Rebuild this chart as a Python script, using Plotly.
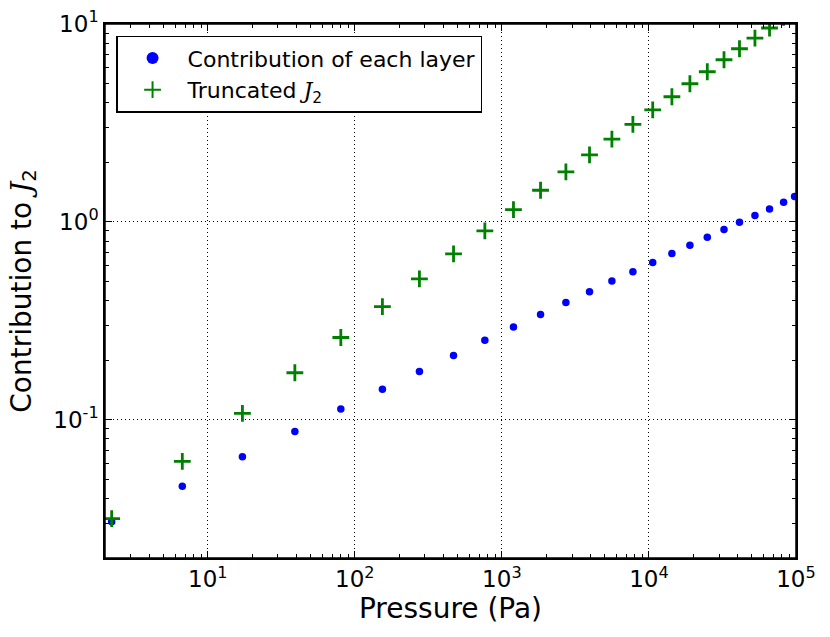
import plotly.graph_objects as go

# Pressure levels (Pa) and contributions
pressure = [2.22, 6.71, 17.2, 39.1, 80.3, 154, 275, 469, 766, 1199,
            1832, 2725, 3945, 5600, 7780, 10610, 14330, 19000, 24940, 32400,
            41300, 52600, 66100, 82400, 97800]
layer = [0.0305, 0.0461, 0.0650, 0.0873, 0.1133, 0.1426, 0.1754, 0.211, 0.252, 0.294,
         0.340, 0.391, 0.443, 0.502, 0.560, 0.624, 0.692, 0.762, 0.837, 0.914,
         0.997, 1.076, 1.163, 1.257, 1.343]
truncated = [0.0316, 0.0616, 0.1076, 0.1727, 0.2604, 0.373, 0.515, 0.689, 0.901, 1.154,
             1.445, 1.789, 2.18, 2.62, 3.11, 3.68, 4.29, 4.99, 5.74, 6.60,
             7.50, 8.49, 9.55, 10.8, 12.1]

x_tickvals = [10, 100, 1000, 10000, 100000]
x_ticktext = ["10<sup>1</sup>", "10<sup>2</sup>", "10<sup>3</sup>", "10<sup>4</sup>", "10<sup>5</sup>"]
y_tickvals = [0.1, 1, 10]
y_ticktext = ["10<sup>-1</sup>", "10<sup>0</sup>", "10<sup>1</sup>"]

# minor ticks at 2..9 of every decade
x_minor = [m * 10 ** k for k in range(0, 5) for m in range(2, 10)]
y_minor = [m * 10 ** k for k in range(-2, 1) for m in range(2, 10)]

J2 = "<span style='font-family:DejaVu Serif'><i>J</i></span><sub>2</sub>"

fig = go.Figure()

fig.add_trace(go.Scatter(
    x=pressure, y=layer, mode="markers",
    name="Contribution of each layer",
    marker=dict(color="#0000ff", size=7.5, symbol="circle", line=dict(width=0)),
))

fig.add_trace(go.Scatter(
    x=pressure, y=truncated, mode="markers",
    name="Truncated " + J2,
    marker=dict(color="#008000", size=12, symbol="cross-thin",
                line=dict(color="#008000", width=2.8)),
))

axis_common = dict(
    type="log", automargin=False,
    showline=True, linecolor="black", linewidth=1.5, mirror="allticks",
    ticks="inside", ticklen=7, tickwidth=1, tickcolor="black",
    showgrid=True, gridcolor="black", griddash="1px,3px", gridwidth=1,
    zeroline=False, ticklabeloverflow="allow",
    tickfont=dict(size=23, color="black"),
)

fig.update_xaxes(axis_common, range=[0.301, 5.0002], tickmode="array",
                 tickvals=x_tickvals, ticktext=x_ticktext,
                 minor=dict(tickmode="array", tickvals=x_minor, ticks="inside", ticklen=4,
                            tickwidth=1, tickcolor="black", showgrid=False),
                 title=dict(text="Pressure (Pa)", font=dict(size=28, color="black"), standoff=4))
fig.update_yaxes(axis_common, range=[-1.699, 1.0002], tickmode="array",
                 tickvals=y_tickvals, ticktext=y_ticktext,
                 minor=dict(tickmode="array", tickvals=y_minor, ticks="inside", ticklen=4,
                            tickwidth=1, tickcolor="black", showgrid=False),
                 title=dict(text="Contribution to " + J2, font=dict(size=28, color="black"), standoff=14))

# frame around the plot area
fig.add_shape(type="rect", xref="paper", yref="paper", x0=0, y0=0, x1=1, y1=1,
              line=dict(color="black", width=1.5), layer="above")

fig.update_layout(
    width=830, height=637,
    margin=dict(l=105, r=34, t=24, b=79),
    paper_bgcolor="white", plot_bgcolor="white",
    font=dict(family="DejaVu Sans", color="black"),
    showlegend=True,
    legend=dict(
        x=0.016, y=0.978, xanchor="left", yanchor="top",
        bordercolor="black", borderwidth=1.5, bgcolor="white",
        font=dict(size=22, color="black"),
        itemsizing="constant", itemwidth=60, tracegroupgap=2,
    ),
)

# drop the page's default body margin so the figure sits at the window corner
fig.write_html("out.html", config={"displayModeBar": False},
               post_script="document.body.style.margin='0';")
